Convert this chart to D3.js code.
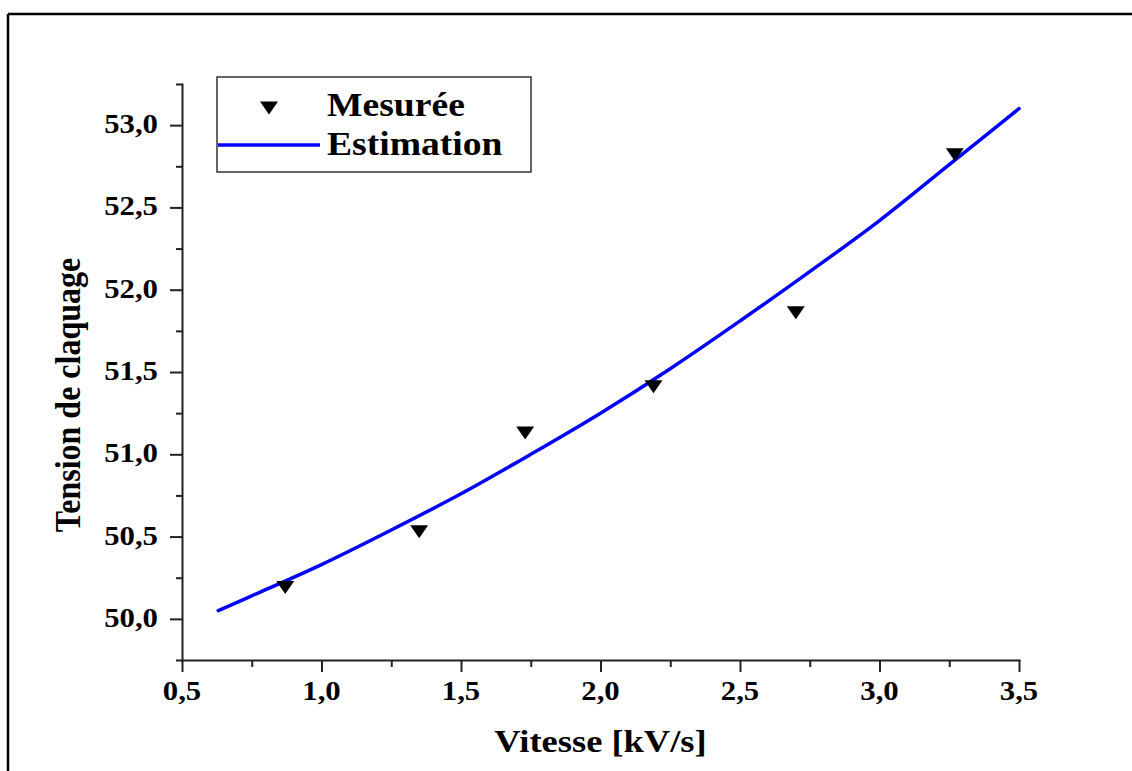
<!DOCTYPE html>
<html>
<head>
<meta charset="utf-8">
<script src="https://cdn.jsdelivr.net/npm/d3@7/dist/d3.min.js"></script>
<style>
  html, body { margin: 0; padding: 0; background: #ffffff; }
  svg { display: block; }
  .lbl { font-family: "Liberation Serif", "Times New Roman", serif; font-weight: bold; fill: #000; }
</style>
</head>
<body>
<svg id="chart" width="1132" height="771"></svg>
<script>
// Measured breakdown voltage vs. ramp speed
const vitesseMesure = [0.87, 1.35, 1.73, 2.19, 2.70, 3.27];
const tensionMesure = [50.19, 50.53, 51.13, 51.41, 51.86, 52.82];

// Estimated curve, read at regular speeds
const vitesseEstimation = [0.63, 0.75, 1.0, 1.25, 1.5, 1.75, 2.0, 2.25, 2.5, 2.75, 3.0, 3.25, 3.5];
const tensionEstimation = [50.05, 50.14, 50.33, 50.54, 50.76, 51.00, 51.25, 51.52, 51.81, 52.11, 52.42, 52.76, 53.10];

// Axis ticks
const xTicks = [0.5, 1.0, 1.5, 2.0, 2.5, 3.0, 3.5];
const xMinorTicks = [0.75, 1.25, 1.75, 2.25, 2.75, 3.25];
const yTicks = [50.0, 50.5, 51.0, 51.5, 52.0, 52.5, 53.0];
const yMinorTicks = [49.75, 50.25, 50.75, 51.25, 51.75, 52.25, 52.75, 53.25];

const legendLabels = ["Mesurée", "Estimation"];
const xTitle = "Vitesse [kV/s]";
const yTitle = "Tension de claquage";

const svg = d3.select("#chart");
const STRETCH = 1.14;           // glyphs are drawn slightly wide
const fmt = d3.formatLocale({ decimal: ",", thousands: " ", grouping: [3], currency: ["", ""] }).format(".1f");

const x = d3.scaleLinear().domain([0.5, 3.5]).range([182, 1019]);
const y = d3.scaleLinear().domain([49.75, 53.25]).range([660, 84]);

// outer frame (top and left edges)
svg.append("line").attr("x1", 8).attr("y1", 14).attr("x2", 1132).attr("y2", 14)
  .attr("stroke", "#000").attr("stroke-width", 2.5);
svg.append("line").attr("x1", 8).attr("y1", 14).attr("x2", 8).attr("y2", 771)
  .attr("stroke", "#000").attr("stroke-width", 2.5);

function styleAxis(g) {
  g.selectAll("path, line").attr("stroke", "#222").attr("stroke-width", 2);
  g.select(".domain").attr("stroke-linecap", "square");
}

// y axis: major and minor ticks
svg.append("g").attr("transform", `translate(${x.range()[0]},0)`)
  .call(d3.axisLeft(y).tickValues(yTicks).tickSize(12).tickSizeOuter(0).tickFormat(""))
  .call(styleAxis);
svg.append("g").attr("transform", `translate(${x.range()[0]},0)`)
  .call(d3.axisLeft(y).tickValues(yMinorTicks).tickSize(6).tickSizeOuter(0).tickFormat(""))
  .call(g => g.select(".domain").remove())
  .call(styleAxis);

// x axis: major and minor ticks
svg.append("g").attr("transform", `translate(0,${y.range()[0]})`)
  .call(d3.axisBottom(x).tickValues(xTicks).tickSize(12).tickSizeOuter(0).tickFormat(""))
  .call(styleAxis);
svg.append("g").attr("transform", `translate(0,${y.range()[0]})`)
  .call(d3.axisBottom(x).tickValues(xMinorTicks).tickSize(7).tickSizeOuter(0).tickFormat(""))
  .call(g => g.select(".domain").remove())
  .call(styleAxis);

// tick labels
svg.append("g").selectAll("text").data(yTicks).join("text")
  .attr("class", "lbl").attr("font-size", 27).attr("text-anchor", "end")
  .attr("transform", d => `translate(158,${y(d) + 8}) scale(${STRETCH},1)`)
  .text(d => fmt(d));
svg.append("g").selectAll("text").data(xTicks).join("text")
  .attr("class", "lbl").attr("font-size", 27).attr("text-anchor", "middle")
  .attr("transform", d => `translate(${x(d)},700) scale(${STRETCH},1)`)
  .text(d => fmt(d));

// axis titles
svg.append("text").attr("class", "lbl").attr("font-size", 32).attr("text-anchor", "middle")
  .attr("transform", `translate(${(x.range()[0] + x.range()[1]) / 2},752) scale(${STRETCH},1)`)
  .text(xTitle);
svg.append("text").attr("class", "lbl").attr("font-size", 32).attr("text-anchor", "middle")
  .attr("transform", `translate(80,395) scale(${STRETCH},1) rotate(-90)`)
  .text(yTitle);

// estimation curve
const line = d3.line().x(d => x(d[0])).y(d => y(d[1])).curve(d3.curveCatmullRom);
svg.append("path")
  .datum(d3.zip(vitesseEstimation, tensionEstimation))
  .attr("d", line)
  .attr("fill", "none").attr("stroke", "#0000ff").attr("stroke-width", 3.5)
  .attr("stroke-linecap", "round");

// measured points: downward triangles
const tri = "M-9,-6.5L9,-6.5L0,6.5Z";
svg.append("g").selectAll("path").data(d3.zip(vitesseMesure, tensionMesure)).join("path")
  .attr("d", tri).attr("fill", "#000")
  .attr("transform", d => `translate(${x(d[0])},${y(d[1])})`);

// legend
const lg = svg.append("g");
lg.append("rect").attr("x", 217).attr("y", 77).attr("width", 314).attr("height", 95)
  .attr("fill", "#fff").attr("stroke", "#333").attr("stroke-width", 1.5);
lg.append("path").attr("d", tri).attr("fill", "#000").attr("transform", "translate(269,108)");
lg.append("line").attr("x1", 218).attr("x2", 320).attr("y1", 145).attr("y2", 145)
  .attr("stroke", "#0000ff").attr("stroke-width", 3.5);
lg.selectAll("text").data(legendLabels).join("text")
  .attr("class", "lbl").attr("font-size", 33)
  .attr("transform", (d, i) => `translate(327,${116 + i * 39}) scale(${STRETCH},1)`)
  .text(d => d);
</script>
</body>
</html>
